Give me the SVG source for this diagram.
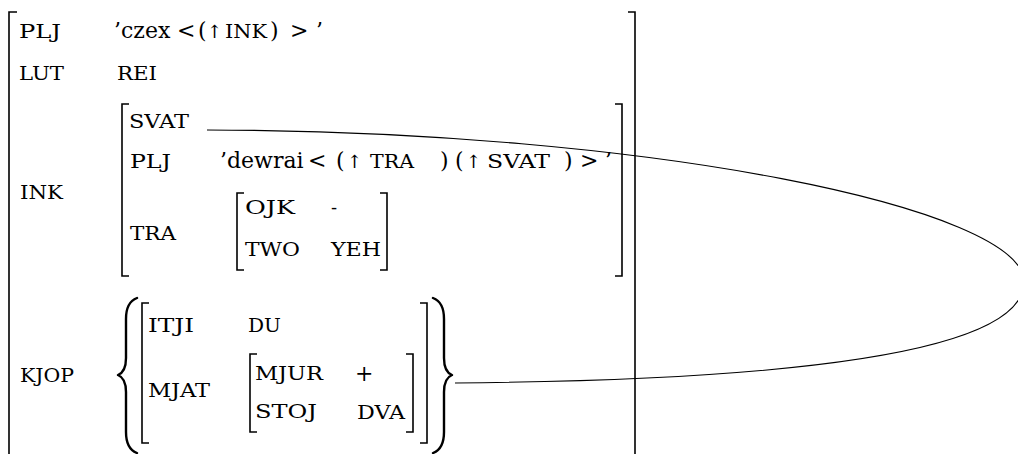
<svg xmlns="http://www.w3.org/2000/svg" width="1018" height="454" viewBox="0 0 1018 454" font-family="DejaVu Serif, serif">
<style>
text{font-family:"DejaVu Serif",serif;fill:#000}
.v{font-size:22px}
.ar{font-size:18px}
.sc{font-size:18px}
.br{fill:none;stroke:#000;stroke-width:1.6}
.brace{fill:none;stroke:#000;stroke-width:2.4;stroke-linejoin:round;stroke-linecap:round}
.con{fill:none;stroke:#000;stroke-width:1.1}
</style>
<rect width="1018" height="454" fill="#fff"/>
<g id="outer">
<path class="br" d="M17,12 H9 V460 M628,12 H635 V460"/>
<text class="sc" x="19" y="38" textLength="42" lengthAdjust="spacingAndGlyphs">PLJ</text>
<text class="v" y="38"><tspan x="114">’czex</tspan><tspan x="177">&lt;</tspan><tspan x="198">(</tspan><tspan class="ar" x="207">↑</tspan><tspan class="sc" x="225" textLength="42" lengthAdjust="spacingAndGlyphs">INK</tspan><tspan x="270">)</tspan><tspan x="290">&gt;</tspan><tspan x="316">’</tspan></text>
<text class="sc" x="19" y="80" textLength="45" lengthAdjust="spacingAndGlyphs">LUT</text>
<text class="sc" x="117" y="80" textLength="40" lengthAdjust="spacingAndGlyphs">REI</text>
<text class="sc" x="20" y="199" textLength="43" lengthAdjust="spacingAndGlyphs">INK</text>
<text class="sc" x="20" y="382" textLength="54" lengthAdjust="spacingAndGlyphs">KJOP</text>
</g>
<g id="ink">
<path class="br" d="M129,104 H122 V276 H129 M615,104 H622 V276 H615"/>
<text class="sc" x="129" y="128" textLength="60" lengthAdjust="spacingAndGlyphs">SVAT</text>
<text class="sc" x="130" y="168" textLength="41" lengthAdjust="spacingAndGlyphs">PLJ</text>
<text class="v" y="168"><tspan x="220">’dewrai</tspan><tspan x="308">&lt;</tspan><tspan x="336">(</tspan><tspan class="ar" x="347">↑</tspan><tspan class="sc" x="370" textLength="44" lengthAdjust="spacingAndGlyphs">TRA</tspan><tspan x="440">)</tspan><tspan x="455">(</tspan><tspan class="ar" x="466">↑</tspan><tspan class="sc" x="487" textLength="63" lengthAdjust="spacingAndGlyphs">SVAT</tspan><tspan x="564">)</tspan><tspan x="580">&gt;</tspan><tspan x="605">’</tspan></text>
<text class="sc" x="130" y="240" textLength="46" lengthAdjust="spacingAndGlyphs">TRA</text>
</g>
<g id="tra">
<path class="br" d="M244,193 H237 V270 H244 M380,193 H387 V270 H380"/>
<text class="sc" x="245" y="214" textLength="50" lengthAdjust="spacingAndGlyphs">OJK</text>
<text class="sc" x="331" y="214">-</text>
<text class="sc" x="245" y="256" textLength="55" lengthAdjust="spacingAndGlyphs">TWO</text>
<text class="sc" x="331" y="256" textLength="50" lengthAdjust="spacingAndGlyphs">YEH</text>
</g>
<g id="kjop">
<path class="brace" d="M137,298 C129,301 126,308 126,319 L126,358 C126,368 123,373 118,375 C123,377 126,382 126,392 L126,432 C126,443 129,450 137,453"/>
<path class="brace" d="M433,298 C441,301 444,308 444,319 L444,358 C444,368 447,373 452,375 C447,377 444,382 444,392 L444,432 C444,443 441,450 433,453"/>
<path class="br" d="M149,303 H142 V443 H149 M420,303 H427 V443 H420"/>
<text class="sc" x="148" y="332" textLength="46" lengthAdjust="spacingAndGlyphs">ITJI</text>
<text class="sc" x="248" y="332" textLength="33" lengthAdjust="spacingAndGlyphs">DU</text>
<text class="sc" x="148" y="397" textLength="62" lengthAdjust="spacingAndGlyphs">MJAT</text>
</g>
<g id="mjat">
<path class="br" d="M257,354 H250 V432 H257 M406,354 H413 V432 H406"/>
<text class="sc" x="255" y="380" textLength="68" lengthAdjust="spacingAndGlyphs">MJUR</text>
<text class="v" x="355" y="381">+</text>
<text class="sc" x="255" y="418" textLength="62" lengthAdjust="spacingAndGlyphs">STOJ</text>
<text class="sc" x="357" y="419" textLength="48" lengthAdjust="spacingAndGlyphs">DVA</text>
</g>
<g id="connectors">
<path class="con" d="M207,130 C650,131 1024,208 1024,282 C1024,352 800,380 455,383"/>
</g>
</svg>
